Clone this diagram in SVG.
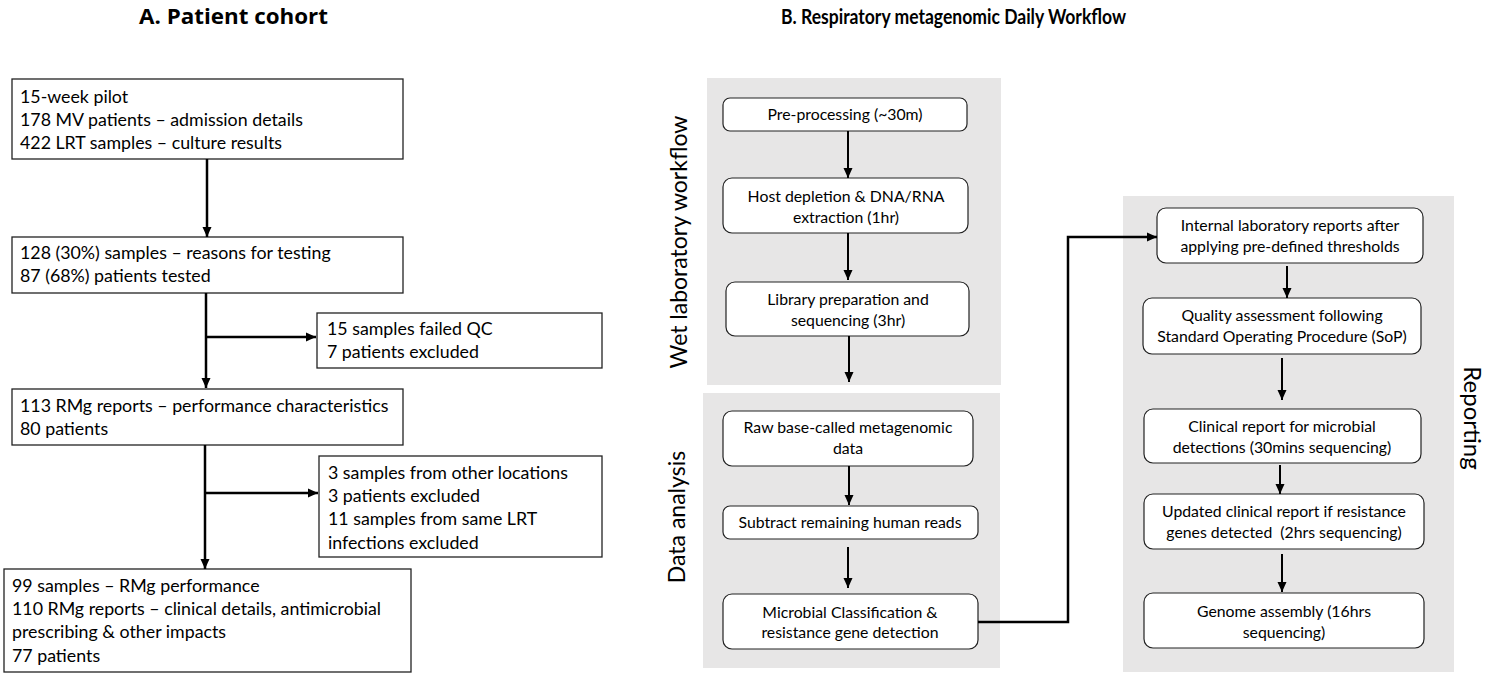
<svg xmlns="http://www.w3.org/2000/svg" width="1486" height="674" viewBox="0 0 1486 674">
<defs>
<marker id="ah" markerUnits="userSpaceOnUse" markerWidth="10" markerHeight="10" viewBox="0 0 10 10" refX="10" refY="5" orient="auto"><path d="M0,0.5 L10,5 L0,9.5 z" fill="#000"/></marker>
</defs>
<style>
text{font-family:Lato,"Liberation Sans",sans-serif;fill:#000}
.t{font-size:17.8px}
.c{font-size:15.8px;text-anchor:middle}
.h{font-weight:bold}
.lab{font-size:23px;text-anchor:middle}
.bx{fill:#fff;stroke:#222;stroke-width:1.3}
.rb{fill:#fff;stroke:#222;stroke-width:1.2}
.panel{fill:#e7e6e6}
.ln{stroke:#000;stroke-width:2.5;fill:none}
.ln2{stroke:#000;stroke-width:2;fill:none}
</style>
<rect width="1486" height="674" fill="#fff"/>
<text class="h" x="139" y="24" style="font-size:21.5px;font-family:'Open Sans',Lato,sans-serif" textLength="189" lengthAdjust="spacingAndGlyphs">A. Patient cohort</text>
<text class="h" x="781" y="24" style="font-size:20.5px" textLength="345" lengthAdjust="spacingAndGlyphs">B. Respiratory metagenomic Daily Workflow</text>

<g id="panels">
<rect class="panel" x="707" y="78" width="294" height="307"/>
<rect class="panel" x="703" y="393" width="297" height="275"/>
<rect class="panel" x="1123" y="196" width="331" height="476"/>
<text class="lab" transform="translate(687,242) rotate(-90)">Wet laboratory workflow</text>
<text class="lab" transform="translate(685,517) rotate(-90)">Data analysis</text>
<text class="lab" transform="translate(1464,418) rotate(90)" style="font-size:24px">Reporting</text>
</g>

<g id="a1"><rect class="bx" x="12" y="79" width="391" height="80"/>
<text class="t" x="20" y="103">15-week pilot</text>
<text class="t" x="20" y="126">178 MV patients – admission details</text>
<text class="t" x="20" y="149">422 LRT samples – culture results</text></g>
<g id="a2"><rect class="bx" x="12" y="237" width="391" height="56"/>
<text class="t" x="20" y="259">128 (30%) samples – reasons for testing</text>
<text class="t" x="20" y="282">87 (68%) patients tested</text></g>
<g id="s1"><rect class="bx" x="317" y="313" width="285" height="55"/>
<text class="t" x="327" y="335">15 samples failed QC</text>
<text class="t" x="327" y="358">7 patients excluded</text></g>
<g id="a3"><rect class="bx" x="12" y="389" width="391" height="56"/>
<text class="t" x="20" y="412">113 RMg reports – performance characteristics</text>
<text class="t" x="20" y="435">80 patients</text></g>
<g id="s2"><rect class="bx" x="319" y="456" width="283" height="101"/>
<text class="t" x="328" y="479">3 samples from other locations</text>
<text class="t" x="328" y="502">3 patients excluded</text>
<text class="t" x="328" y="525">11 samples from same LRT</text>
<text class="t" x="328" y="549">infections excluded</text></g>
<g id="a4"><rect class="bx" x="4" y="569" width="407" height="103"/>
<text class="t" x="12" y="592">99 samples – RMg performance</text>
<text class="t" x="12" y="615">110 RMg reports – clinical details, antimicrobial</text>
<text class="t" x="12" y="638">prescribing &amp; other impacts</text>
<text class="t" x="12" y="662">77 patients</text></g>

<g id="b1"><rect class="rb" x="723" y="98" width="244" height="33" rx="7"/>
<text class="c" x="845" y="120">Pre-processing (~30m)</text></g>
<g id="b2"><rect class="rb" x="723" y="178" width="245" height="55" rx="9"/>
<text class="c" x="846" y="202">Host depletion &amp; DNA/RNA</text>
<text class="c" x="846" y="223">extraction (1hr)</text></g>
<g id="b3"><rect class="rb" x="726" y="282" width="243" height="54" rx="9"/>
<text class="c" x="848" y="305">Library preparation and</text>
<text class="c" x="848" y="326">sequencing (3hr)</text></g>
<g id="b4"><rect class="rb" x="723" y="411" width="250" height="55" rx="9"/>
<text class="c" x="848" y="433">Raw base-called metagenomic</text>
<text class="c" x="848" y="454">data</text></g>
<g id="b5"><rect class="rb" x="723" y="506" width="255" height="33" rx="7"/>
<text class="c" x="850" y="528">Subtract remaining human reads</text></g>
<g id="b6"><rect class="rb" x="723" y="594" width="255" height="55" rx="9"/>
<text class="c" x="850" y="618">Microbial Classification &amp;</text>
<text class="c" x="850" y="638">resistance gene detection</text></g>
<g id="r1"><rect class="rb" x="1157" y="208" width="266" height="55" rx="9"/>
<text class="c" x="1290" y="231">Internal laboratory reports after</text>
<text class="c" x="1290" y="252">applying pre-defined thresholds</text></g>
<g id="r2"><rect class="rb" x="1143" y="298" width="278" height="56" rx="9"/>
<text class="c" x="1282" y="321">Quality assessment following</text>
<text class="c" x="1282" y="342">Standard Operating Procedure (SoP)</text></g>
<g id="r3"><rect class="rb" x="1144" y="409" width="277" height="54" rx="9"/>
<text class="c" x="1282" y="432">Clinical report for microbial</text>
<text class="c" x="1282" y="453">detections (30mins sequencing)</text></g>
<g id="r4"><rect class="rb" x="1144" y="494" width="280" height="55" rx="9"/>
<text class="c" x="1284" y="517">Updated clinical report if resistance</text>
<text class="c" x="1284" y="538" style="white-space:pre">genes detected  (2hrs sequencing)</text></g>
<g id="r5"><rect class="rb" x="1144" y="593" width="280" height="55" rx="9"/>
<text class="c" x="1284" y="617">Genome assembly (16hrs</text>
<text class="c" x="1284" y="638">sequencing)</text></g>

<g id="connectors">
<path class="ln" d="M207,159 V237" marker-end="url(#ah)"/>
<path class="ln" d="M206,293 V388" marker-end="url(#ah)"/>
<path class="ln" d="M206,337 H316" marker-end="url(#ah)"/>
<path class="ln" d="M205,445 V569" marker-end="url(#ah)"/>
<path class="ln" d="M205,493 H318" marker-end="url(#ah)"/>
<path class="ln2" d="M848,131 V178" marker-end="url(#ah)"/>
<path class="ln2" d="M848,233 V280" marker-end="url(#ah)"/>
<path class="ln2" d="M849,336 V382" marker-end="url(#ah)"/>
<path class="ln2" d="M849,466 V505" marker-end="url(#ah)"/>
<path class="ln2" d="M848,547 V588" marker-end="url(#ah)"/>
<path class="ln" d="M978,622 H1068 V237 H1157" marker-end="url(#ah)"/>
<path class="ln2" d="M1287,266 V298" marker-end="url(#ah)"/>
<path class="ln2" d="M1282,358 V400" marker-end="url(#ah)"/>
<path class="ln2" d="M1280,465 V494" marker-end="url(#ah)"/>
<path class="ln2" d="M1282,554 V592" marker-end="url(#ah)"/>
</g>
</svg>
